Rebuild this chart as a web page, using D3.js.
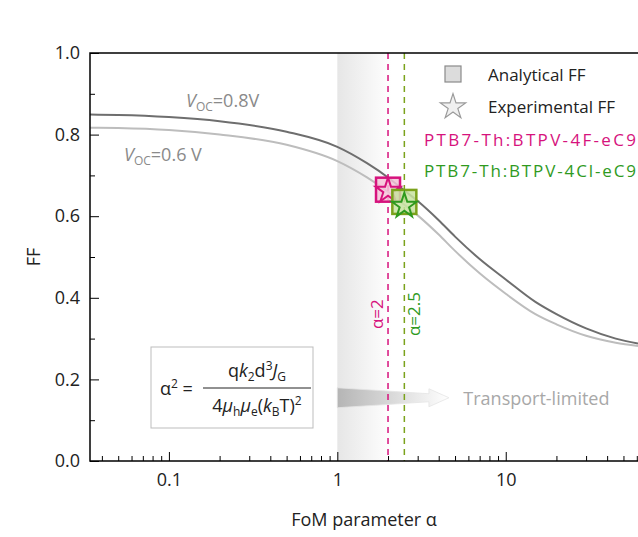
<!DOCTYPE html>
<html><head><meta charset="utf-8">
<script src="https://cdn.jsdelivr.net/npm/d3@7"></script>
<style>body{margin:0;background:#fff}text{font-family:"Open Sans","Noto Sans",sans-serif}</style>
</head><body><div id="chart"></div>
<script>
const width = 638, height = 537;
const margin = {top: 53, right: 0, bottom: 76, left: 90};

// FF curves
const alphaPts = [0.034, 0.05, 0.1, 0.2, 0.5, 1, 1.5, 2, 2.5, 3, 4, 5, 7, 10, 15, 20, 30, 45, 61];
const ff08 = [0.849, 0.848, 0.843, 0.833, 0.807, 0.77, 0.73, 0.695, 0.663, 0.637, 0.59, 0.55, 0.495, 0.445, 0.39, 0.36, 0.325, 0.3, 0.288];
const ff06 = [0.817, 0.816, 0.811, 0.8, 0.775, 0.735, 0.695, 0.66, 0.628, 0.602, 0.555, 0.515, 0.46, 0.41, 0.36, 0.335, 0.307, 0.29, 0.282];
const xTicks = [0.1, 1, 10];
const yTicks = [0, 0.2, 0.4, 0.6, 0.8, 1.0];
const samples = [
  {name: "PTB7-Th:BTPV-4F-eC9", alpha: 2, ffA: 0.665, ffE: 0.665, color: "#d6137d", fill: "#f4c3d8"},
  {name: "PTB7-Th:BTPV-4Cl-eC9", alpha: 2.5, ffA: 0.635, ffE: 0.628, color: "#2f9a1e", fill: "#c8e3a0", edge: "#7ba21c"}
];

const svg = d3.select("#chart").append("svg").attr("width", width).attr("height", height);
const x = d3.scaleLog().domain([0.034, 61]).range([margin.left, width - margin.right]);
const y = d3.scaleLinear().domain([0, 1]).range([height - margin.bottom, margin.top]);

const defs = svg.append("defs");
const g1 = defs.append("linearGradient").attr("id", "band");
g1.append("stop").attr("offset", "0%").attr("stop-color", "#e6e6e6");
g1.append("stop").attr("offset", "100%").attr("stop-color", "#fff");
const g2 = defs.append("linearGradient").attr("id", "arrow");
g2.append("stop").attr("offset", "0%").attr("stop-color", "#b5b5b5");
g2.append("stop").attr("offset", "100%").attr("stop-color", "#fff");
defs.append("clipPath").attr("id", "clip").append("rect")
  .attr("x", margin.left).attr("y", margin.top)
  .attr("width", width - margin.left).attr("height", y(0) - margin.top);

// shaded band
svg.append("rect").attr("x", x(1)).attr("y", margin.top)
  .attr("width", x(2.1) - x(1)).attr("height", y(0) - margin.top).attr("fill", "url(#band)");

// arrow
const ay = y(0.155);
svg.append("path")
  .attr("d", `M${x(1)},${ay - 10} L${x(3.5)},${ay - 4} L${x(3.5)},${ay - 9} L${x(4.6)},${ay} L${x(3.5)},${ay + 9} L${x(3.5)},${ay + 4} L${x(1)},${ay + 10} Z`)
  .attr("fill", "url(#arrow)").attr("stroke", "#e4e4e4").attr("stroke-width", 0.8);
svg.append("text").attr("x", x(5.6)).attr("y", ay + 7).attr("fill", "#a8a8a8")
  .attr("font-size", 18).text("Transport-limited");

// curves
const line = d3.line().x((d, i) => x(alphaPts[i])).y(d => y(d)).curve(d3.curveMonotoneX);
const plot = svg.append("g").attr("clip-path", "url(#clip)");
plot.append("path").attr("d", line(ff06)).attr("fill", "none").attr("stroke", "#bdbdbd").attr("stroke-width", 2);
plot.append("path").attr("d", line(ff08)).attr("fill", "none").attr("stroke", "#6e6e6e").attr("stroke-width", 2);

// dashed lines
samples.forEach(s => {
  svg.append("line").attr("x1", x(s.alpha)).attr("x2", x(s.alpha))
    .attr("y1", margin.top).attr("y2", y(0))
    .attr("stroke", s.edge || s.color).attr("stroke-width", 1.5).attr("stroke-dasharray", "6,5");
});
svg.append("text").attr("transform", `translate(${x(2) - 5},${y(0.36)}) rotate(-90)`)
  .attr("text-anchor", "middle").attr("fill", "#d6137d").attr("font-size", 17).text("α=2");
svg.append("text").attr("transform", `translate(${x(2.5) + 16},${y(0.36)}) rotate(-90)`)
  .attr("text-anchor", "middle").attr("fill", "#2f9a1e").attr("font-size", 17).text("α=2.5");

const star = d3.symbol().type(d3.symbolStar).size(190);
samples.forEach(s => {
  svg.append("rect").attr("x", x(s.alpha) - 12).attr("y", y(s.ffA) - 12).attr("width", 24).attr("height", 24)
    .attr("fill", s.fill).attr("fill-opacity", 0.85).attr("stroke", s.edge || s.color).attr("stroke-width", 2.5);
  svg.append("path").attr("d", star).attr("transform", `translate(${x(s.alpha)},${y(s.ffE) + 1})`)
    .attr("fill", "none").attr("stroke", s.color).attr("stroke-width", 2);
});

// curve labels
const vlab = (t, xx, yy) => {
  const tx = svg.append("text").attr("x", xx).attr("y", yy).attr("fill", "#8a8a8a").attr("font-size", 18);
  tx.append("tspan").attr("font-style", "italic").text("V");
  tx.append("tspan").attr("font-size", 12).attr("dy", 4).text("OC");
  tx.append("tspan").attr("dy", -4).text(t);
};
vlab("=0.8V", 186, 107);
vlab("=0.6 V", 124, 161);

// legend
svg.append("rect").attr("x", 445).attr("y", 66).attr("width", 16).attr("height", 16)
  .attr("fill", "#dcdcdc").attr("stroke", "#8a8a8a").attr("stroke-width", 1.2);
svg.append("path").attr("d", d3.symbol().type(d3.symbolStar).size(200)).attr("transform", "translate(453,107)")
  .attr("fill", "#f0f0f0").attr("stroke", "#9a9a9a").attr("stroke-width", 1.2);
svg.append("text").attr("x", 488).attr("y", 81).attr("font-size", 17).attr("fill", "#222").text("Analytical FF");
svg.append("text").attr("x", 488).attr("y", 113).attr("font-size", 17).attr("fill", "#222").text("Experimental FF");
samples.forEach((s, i) => {
  svg.append("text").attr("x", 424).attr("y", 146 + i * 31).attr("font-size", 17).attr("fill", s.color)
    .attr("textLength", 212).text(s.name);
});

// formula box
const fb = svg.append("g");
fb.append("rect").attr("x", 151).attr("y", 347).attr("width", 162).attr("height", 81)
  .attr("fill", "#fff").attr("stroke", "#bdbdbd").attr("stroke-width", 1);
const ft = fb.append("text").attr("x", 160).attr("y", 395).attr("font-size", 18).attr("fill", "#222");
ft.append("tspan").text("α");
ft.append("tspan").attr("font-size", 12).attr("dy", -7).text("2");
ft.append("tspan").attr("dy", 7).text(" =");
fb.append("line").attr("x1", 203).attr("x2", 311).attr("y1", 388).attr("y2", 388).attr("stroke", "#222");
const num = fb.append("text").attr("x", 257).attr("y", 377).attr("text-anchor", "middle").attr("font-size", 18).attr("fill", "#222");
num.append("tspan").text("q");
num.append("tspan").attr("font-style", "italic").text("k");
num.append("tspan").attr("font-size", 12).attr("dy", 4).text("2");
num.append("tspan").attr("dy", -4).text("d");
num.append("tspan").attr("font-size", 12).attr("dy", -7).text("3");
num.append("tspan").attr("dy", 7).attr("font-style", "italic").text("J");
num.append("tspan").attr("font-size", 12).attr("dy", 4).text("G");
const den = fb.append("text").attr("x", 257).attr("y", 412).attr("text-anchor", "middle").attr("font-size", 18).attr("fill", "#222");
den.append("tspan").text("4");
den.append("tspan").attr("font-style", "italic").text("μ");
den.append("tspan").attr("font-size", 12).attr("dy", 4).text("h");
den.append("tspan").attr("dy", -4).attr("font-style", "italic").text("μ");
den.append("tspan").attr("font-size", 12).attr("dy", 4).text("e");
den.append("tspan").attr("dy", -4).text("(");
den.append("tspan").attr("font-style", "italic").text("k");
den.append("tspan").attr("font-size", 12).attr("dy", 4).text("B");
den.append("tspan").attr("dy", -4).text("T)");
den.append("tspan").attr("font-size", 12).attr("dy", -7).text("2");

// frame and axes
svg.append("rect").attr("x", margin.left).attr("y", margin.top)
  .attr("width", width - margin.left + 2).attr("height", y(0) - margin.top)
  .attr("fill", "none").attr("stroke", "#000").attr("stroke-width", 1.5);

const minor = x.ticks().filter(v => !xTicks.includes(v));
svg.append("g").attr("transform", `translate(0,${y(0)})`)
  .call(d3.axisBottom(x).tickValues(minor).tickSize(-5).tickFormat(""))
  .call(g => g.select(".domain").remove());
const xa = svg.append("g").attr("transform", `translate(0,${y(0)})`)
  .call(d3.axisBottom(x).tickValues(xTicks).tickSize(-9).tickPadding(8).tickFormat(d3.format("~g")));
xa.select(".domain").remove();
xa.selectAll("text").attr("font-size", 18).attr("fill", "#222").attr("dy", "0.71em").attr("y", 12);

const ya = svg.append("g").attr("transform", `translate(${margin.left},0)`)
  .call(d3.axisLeft(y).tickValues(yTicks).tickSize(-9).tickPadding(10).tickFormat(d3.format(".1f")));
ya.select(".domain").remove();
ya.selectAll("text").attr("font-size", 18).attr("fill", "#222");
svg.append("g").attr("transform", `translate(${margin.left},0)`)
  .call(d3.axisLeft(y).tickValues(d3.range(0.1, 1, 0.2)).tickSize(-5).tickFormat(""))
  .call(g => g.select(".domain").remove());

svg.append("text").attr("x", (margin.left + width) / 2).attr("y", 526).attr("text-anchor", "middle")
  .attr("font-size", 18).attr("fill", "#222").text("FoM parameter α");
svg.append("text").attr("transform", `translate(40,${(y(0) + y(1)) / 2}) rotate(-90)`)
  .attr("text-anchor", "middle").attr("font-size", 18).attr("fill", "#222").text("FF");
</script></body></html>
